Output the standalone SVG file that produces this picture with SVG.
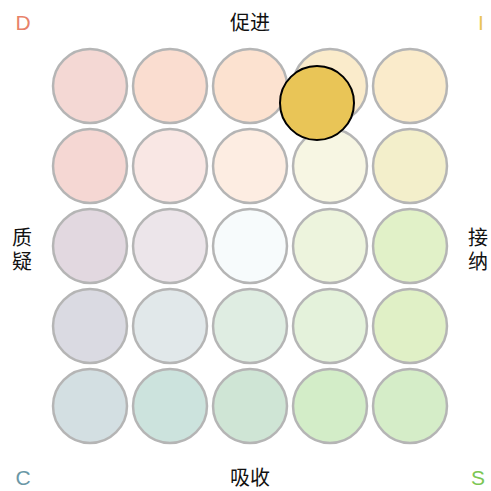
<svg xmlns="http://www.w3.org/2000/svg" width="491" height="491" viewBox="0 0 491 491">
<style>
.c{stroke:#b5b5b5;stroke-width:2.5}
.t{font-family:"Liberation Sans","Noto Sans CJK SC",sans-serif;font-size:20px;text-anchor:middle;fill:#111}
.k{font-family:"Liberation Sans",sans-serif;font-size:21px;text-anchor:middle}
</style>
<rect width="491" height="491" fill="#ffffff"/>
<g id="grid">
<circle class="c" cx="90" cy="86" r="37" fill="#F4D8D4"/>
<circle class="c" cx="170" cy="86" r="37" fill="#FADDD0"/>
<circle class="c" cx="250" cy="86" r="37" fill="#FCE2D0"/>
<circle class="c" cx="330" cy="86" r="37" fill="#FAEBCB"/>
<circle class="c" cx="410" cy="86" r="37" fill="#FAEBCB"/>
<circle class="c" cx="90" cy="166" r="37" fill="#F5D7D3"/>
<circle class="c" cx="170" cy="166" r="37" fill="#F9E7E4"/>
<circle class="c" cx="250" cy="166" r="37" fill="#FDEDE2"/>
<circle class="c" cx="330" cy="166" r="37" fill="#F7F6E3"/>
<circle class="c" cx="410" cy="166" r="37" fill="#F3EFCB"/>
<circle class="c" cx="90" cy="246" r="37" fill="#E2D8E0"/>
<circle class="c" cx="170" cy="246" r="37" fill="#ECE5EA"/>
<circle class="c" cx="250" cy="246" r="37" fill="#F7FBFC"/>
<circle class="c" cx="330" cy="246" r="37" fill="#EDF4DD"/>
<circle class="c" cx="410" cy="246" r="37" fill="#E1F1C8"/>
<circle class="c" cx="90" cy="326" r="37" fill="#DADAE2"/>
<circle class="c" cx="170" cy="326" r="37" fill="#E1E8EA"/>
<circle class="c" cx="250" cy="326" r="37" fill="#DFEDE2"/>
<circle class="c" cx="330" cy="326" r="37" fill="#E4F2DB"/>
<circle class="c" cx="410" cy="326" r="37" fill="#E0F0C6"/>
<circle class="c" cx="90" cy="406" r="37" fill="#D3DFE2"/>
<circle class="c" cx="170" cy="406" r="37" fill="#CCE3DD"/>
<circle class="c" cx="250" cy="406" r="37" fill="#CFE5D5"/>
<circle class="c" cx="330" cy="406" r="37" fill="#D3EDC8"/>
<circle class="c" cx="410" cy="406" r="37" fill="#D5EDC8"/>
</g>
<g id="marker">
<circle cx="317" cy="103" r="37" fill="#E9C557" stroke="#000" stroke-width="2"/>
</g>
<g id="labels">
<text class="k" x="23" y="30" fill="#E8826A">D</text>
<text class="k" x="481" y="30" fill="#E9C557">I</text>
<text class="k" x="23" y="485" fill="#6A98A6">C</text>
<text class="k" x="478" y="485" fill="#7CC653">S</text>
<text class="t" x="250" y="30">促进</text>
<text class="t" x="250" y="485">吸收</text>
<text class="t" x="22" y="245">质</text>
<text class="t" x="22" y="269">疑</text>
<text class="t" x="478" y="245">接</text>
<text class="t" x="478" y="269">纳</text>
</g>
</svg>
